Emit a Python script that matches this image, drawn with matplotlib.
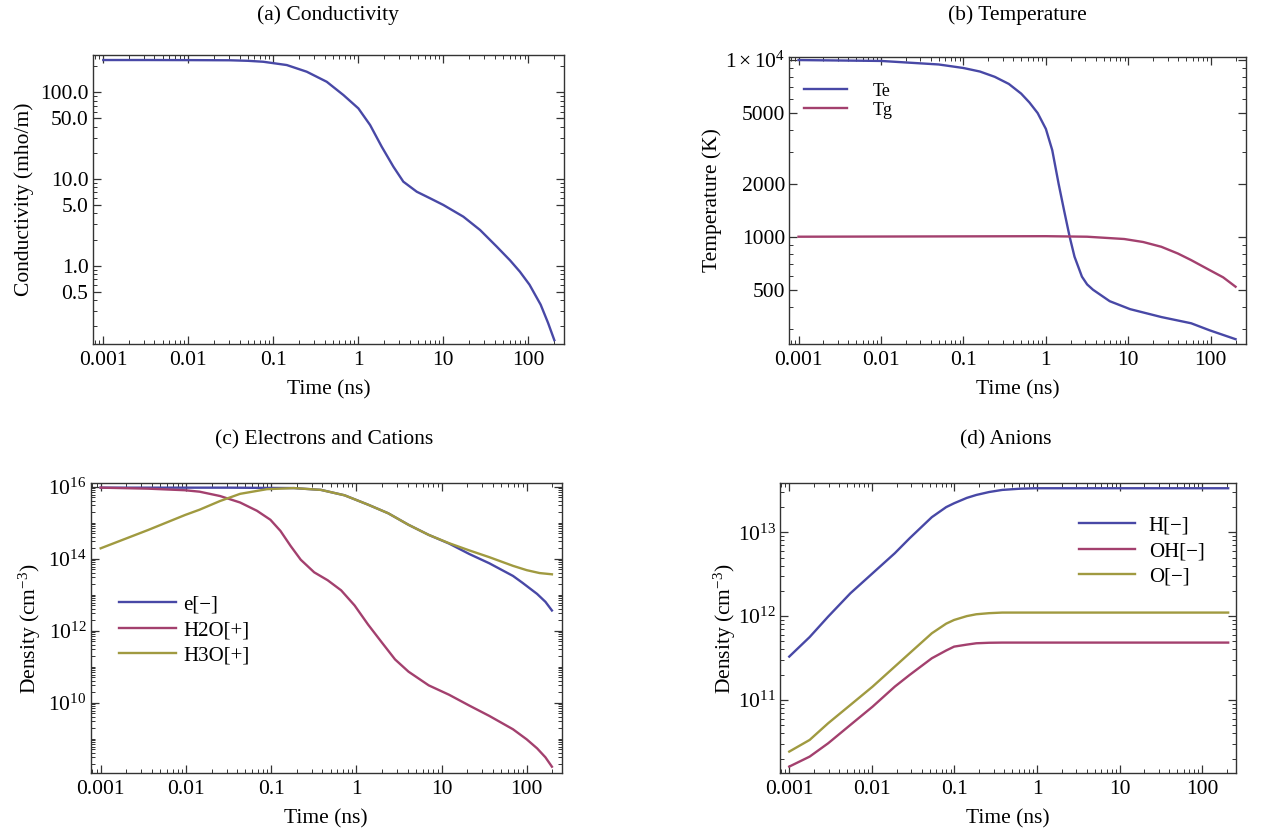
import numpy as np
import matplotlib
matplotlib.use("Agg")
import matplotlib.pyplot as plt
from matplotlib.ticker import FixedLocator, FixedFormatter, NullFormatter

plt.rcParams['font.family'] = ['Liberation Serif', 'DejaVu Serif']
plt.rcParams['mathtext.fontset'] = 'custom'
plt.rcParams['mathtext.rm'] = 'Liberation Serif'
plt.rcParams['mathtext.it'] = 'Liberation Serif:italic'
plt.rcParams['mathtext.bf'] = 'Liberation Serif:bold'

BLUE = '#4848a6'
RED = '#a3406e'
OLIVE = '#a09a40'

# ---------------- data (log10 of time in ns, log10 of value) ----------------
# (a) Conductivity (mho/m)
cond_logt = [-3.0, -2.5, -2.0, -1.51, -1.3, -1.118, -0.842, -0.607, -0.372, -0.176, 0.0,
             0.138, 0.275, 0.412, 0.529, 0.687, 0.844, 1.0, 1.235, 1.432, 1.628,
             1.785, 1.90, 2.013, 2.144, 2.231, 2.305]
cond_logv = [2.373, 2.373, 2.372, 2.37, 2.364, 2.353, 2.315, 2.238, 2.122, 1.969, 1.815,
             1.623, 1.372, 1.142, 0.969, 0.853, 0.777, 0.700, 0.565, 0.411, 0.219,
             0.06, -0.07, -0.22, -0.45, -0.66, -0.86]

# (b) Temperature (K)
te_logt = [-3.0, -2.0, -1.3, -1.0, -0.8, -0.62, -0.45, -0.30, -0.2, -0.10, 0.0, 0.077, 0.154,
           0.22, 0.288, 0.347, 0.437, 0.50, 0.571, 0.774, 1.021, 1.403, 1.762,
           1.987, 2.30]
te_logv = [4.0, 3.995, 3.975, 3.955, 3.935, 3.905, 3.865, 3.81, 3.76, 3.70, 3.61, 3.49, 3.30,
           3.15, 3.0, 2.887, 2.774, 2.73, 2.70, 2.635, 2.59, 2.545, 2.51,
           2.47, 2.42]
tg_logt = [-3.0, -1.0, 0.0, 0.5, 0.95, 1.18, 1.40, 1.60, 1.76, 1.99, 2.15, 2.30]
tg_logv = [3.0, 3.002, 3.003, 3.0, 2.987, 2.97, 2.943, 2.905, 2.868, 2.81, 2.77, 2.717]

# (c) Electrons and cations (cm^-3)
h3o_logt = [-3.0, -2.443, -2.009, -1.839, -1.60, -1.364, -1.048, -0.731, -0.415, -0.138,
            0.138, 0.375, 0.613, 0.85, 1.088, 1.325, 1.562, 1.839, 2.0, 2.15, 2.296]
h3o_logv = [14.287, 14.796, 15.213, 15.36, 15.60, 15.80, 15.93, 15.96, 15.91, 15.76,
            15.50, 15.26, 14.94, 14.66, 14.43, 14.23, 14.04, 13.80, 13.68, 13.60, 13.565]
e_logt = [-3.0, -1.5, -1.05, -0.731, -0.415, -0.138, 0.138, 0.375, 0.613, 0.85,
          1.088, 1.325, 1.562, 1.839, 1.95, 2.122, 2.22, 2.296]
e_logv = [15.972, 15.972, 15.965, 15.96, 15.91, 15.76, 15.50, 15.26, 14.94, 14.66,
          14.42, 14.13, 13.87, 13.52, 13.33, 13.02, 12.80, 12.56]
h2o_logt = [-3.0, -2.443, -2.009, -1.839, -1.60, -1.364, -1.166, -1.008, -0.89, -0.77,
            -0.652, -0.494, -0.336, -0.178, -0.02, 0.138, 0.297, 0.455, 0.613, 0.85,
            1.088, 1.325, 1.562, 1.839, 2.0, 2.122, 2.22, 2.296]
h2o_logv = [15.972, 15.944, 15.90, 15.86, 15.74, 15.56, 15.33, 15.08, 14.77, 14.35,
            13.97, 13.62, 13.40, 13.12, 12.70, 12.17, 11.68, 11.20, 10.86, 10.48,
            10.22, 9.92, 9.63, 9.26, 8.98, 8.73, 8.48, 8.22]

# (d) Anions (cm^-3)
an_logt = [-3.0, -2.753, -2.529, -2.260, -1.991, -1.722, -1.543, -1.274, -1.10, -1.004,
           -0.85, -0.735, -0.58, -0.422, -0.20, -0.018, 2.314]
hm_logv = [11.517, 11.75, 11.994, 12.272, 12.511, 12.750, 12.928, 13.18, 13.30, 13.346,
           13.41, 13.445, 13.48, 13.505, 13.52, 13.525, 13.525]
om_logv = [10.384, 10.523, 10.722, 10.940, 11.159, 11.398, 11.557, 11.795, 11.91, 11.954,
           12.0, 12.022, 12.035, 12.042, 12.042, 12.042, 12.042]
ohm_logv = [10.205, 10.324, 10.483, 10.702, 10.920, 11.159, 11.298, 11.497, 11.59, 11.636,
            11.66, 11.676, 11.682, 11.684, 11.684, 11.684, 11.684]

xtick_vals = [0.001, 0.01, 0.1, 1, 10, 100]
xtick_labels = ['0.001', '0.01', '0.1', '1', '10', '100']

FS = 15.5
LFS = 15

W, H = 1280, 832
fig = plt.figure(figsize=(12.8, 8.32), dpi=100)

def make_ax(l, r, t, b):
    return fig.add_axes([l / W, 1 - b / H, (r - l) / W, (b - t) / H])

def minor_list(lo, hi, exclude):
    out = []
    for k in range(lo, hi + 1):
        for m in range(1, 10):
            v = m * 10.0 ** k
            if not any(abs(v - e) / e < 1e-9 for e in exclude):
                out.append(v)
    return out

def style(ax, xl, yl, title, title_x, title_y):
    ax.set_xscale('log')
    ax.set_yscale('log')
    ax.xaxis.set_major_locator(FixedLocator(xtick_vals))
    ax.xaxis.set_major_formatter(FixedFormatter(xtick_labels))
    ax.xaxis.set_minor_locator(FixedLocator(minor_list(-4, 2, xtick_vals)))
    ax.xaxis.set_minor_formatter(NullFormatter())
    ax.set_xlim(10 ** xl[0], 10 ** xl[1])
    ax.set_ylim(10 ** yl[0], 10 ** yl[1])
    ax.tick_params(which='both', direction='in', top=True, right=True, labelsize=FS,
                   color='#333333')
    ax.tick_params(which='major', length=6, width=0.9, pad=5)
    ax.tick_params(which='minor', length=3, width=0.7)
    ax.tick_params(axis='y', which='major', pad=3)
    for s in ax.spines.values():
        s.set_color('#333333')
        s.set_linewidth(1.0)
    ax.set_xlabel('Time (ns)', fontsize=FS, labelpad=7)
    fig.text(title_x / W, 1 - title_y / H, title, ha='center', va='center', fontsize=FS)

def put_legend(ax, x_px, y_first_px, fs, hl, htp, ls):
    fs_px = fs * 100 / 72
    ax.legend(loc='upper left', bbox_to_anchor=(x_px / W, 1 - (y_first_px - 0.62 * fs_px) / H),
              bbox_transform=fig.transFigure, frameon=False, fontsize=fs,
              handlelength=hl, handletextpad=htp, labelspacing=ls,
              borderpad=0, borderaxespad=0)

LW = 1.7

# (a)
axa = make_ax(92.6, 564.1, 55, 344.3)
axa.plot(10 ** np.array(cond_logt), 10 ** np.array(cond_logv), color=BLUE, lw=LW)
style(axa, (-3.126, 2.42), (-0.908, 2.431), '(a) Conductivity', 328, 15)
ya = [0.5, 1.0, 5.0, 10.0, 50.0, 100.0]
axa.yaxis.set_major_locator(FixedLocator(ya))
axa.yaxis.set_major_formatter(FixedFormatter(['0.5', '1.0', '5.0', '10.0', '50.0', '100.0']))
axa.yaxis.set_minor_locator(FixedLocator(minor_list(-1, 2, ya)))
axa.yaxis.set_minor_formatter(NullFormatter())
axa.set_ylabel('Conductivity (mho/m)', fontsize=FS, labelpad=4)

# (b)
axb = make_ax(789.3, 1245.6, 56.7, 344.3)
axb.plot(10 ** np.array(te_logt), 10 ** np.array(te_logv), color=BLUE, lw=LW, label='Te')
axb.plot(10 ** np.array(tg_logt), 10 ** np.array(tg_logv), color=RED, lw=LW, label='Tg')
style(axb, (-3.112, 2.422), (2.391, 4.019), '(b) Temperature', 1017, 15)
yb = [500, 1000, 2000, 5000, 10000]
axb.yaxis.set_major_locator(FixedLocator(yb))
axb.yaxis.set_major_formatter(FixedFormatter(['500', '1000', '2000', '5000', r'$1\times10^{4}$']))
axb.yaxis.set_minor_locator(FixedLocator(minor_list(2, 4, yb)))
axb.yaxis.set_minor_formatter(NullFormatter())
axb.set_ylabel('Temperature (K)', fontsize=FS, labelpad=2)
put_legend(axb, 804, 94, 13, 2.4, 1.4, 0.1)

# (c)
axc = make_ax(90.7, 561.9, 483.3, 773.3)
axc.plot(10 ** np.array(e_logt), 10 ** np.array(e_logv), color=BLUE, lw=LW, label='e[\u2212]')
axc.plot(10 ** np.array(h2o_logt), 10 ** np.array(h2o_logv), color=RED, lw=LW, label='H2O[+]')
axc.plot(10 ** np.array(h3o_logt), 10 ** np.array(h3o_logv), color=OLIVE, lw=LW, label='H3O[+]')
style(axc, (-3.117, 2.413), (8.037, 16.093), '(c) Electrons and Cations', 324, 440)
yc = [1e10, 1e12, 1e14, 1e16]
axc.yaxis.set_major_locator(FixedLocator(yc))
axc.yaxis.set_major_formatter(FixedFormatter([r'$10^{10}$', r'$10^{12}$', r'$10^{14}$', r'$10^{16}$']))
axc.yaxis.set_minor_locator(FixedLocator(minor_list(8, 16, yc)))
axc.yaxis.set_minor_formatter(NullFormatter())
axc.set_ylabel(r'Density (cm$^{-3}$)', fontsize=FS, labelpad=4)
put_legend(axc, 118.5, 608, LFS, 2.75, 0.35, 0.28)

# (d)
axd = make_ax(780, 1235.6, 483.3, 773.3)
an_t = 10 ** np.array(an_logt)
axd.plot(an_t, 10 ** np.array(hm_logv), color=BLUE, lw=LW, label='H[\u2212]')
axd.plot(an_t, 10 ** np.array(ohm_logv), color=RED, lw=LW, label='OH[\u2212]')
axd.plot(an_t, 10 ** np.array(om_logv), color=OLIVE, lw=LW, label='O[\u2212]')
style(axd, (-3.112, 2.404), (10.125, 13.584), '(d) Anions', 1006, 440)
yd = [1e11, 1e12, 1e13]
axd.yaxis.set_major_locator(FixedLocator(yd))
axd.yaxis.set_major_formatter(FixedFormatter([r'$10^{11}$', r'$10^{12}$', r'$10^{13}$']))
axd.yaxis.set_minor_locator(FixedLocator(minor_list(10, 13, yd)))
axd.yaxis.set_minor_formatter(NullFormatter())
axd.set_ylabel(r'Density (cm$^{-3}$)', fontsize=FS, labelpad=0)
put_legend(axd, 1079, 529, LFS, 2.7, 0.65, 0.28)

fig.savefig('out.png', dpi=100, facecolor='white')
